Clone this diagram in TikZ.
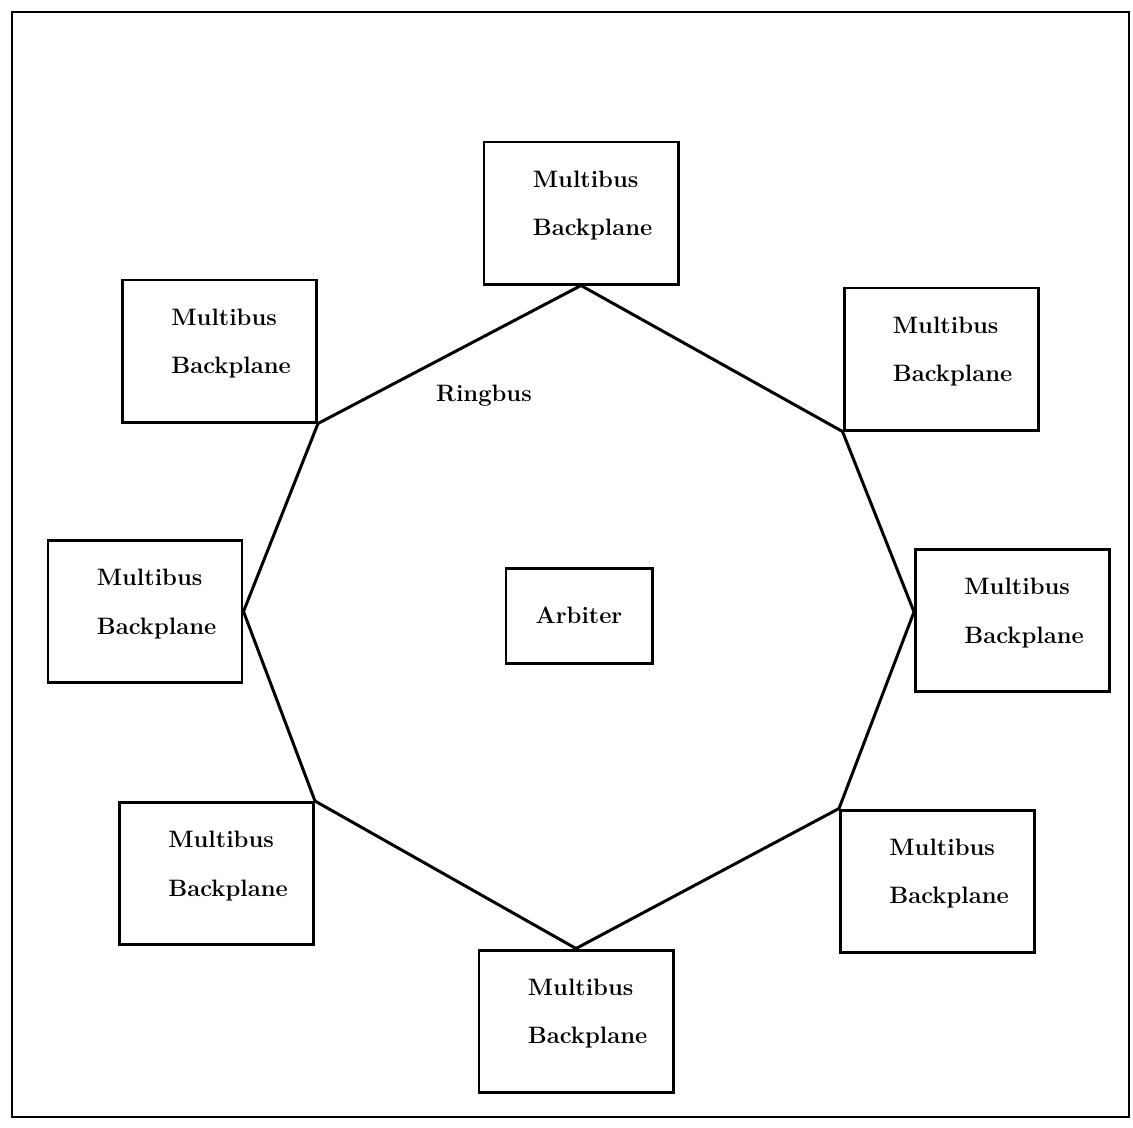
\documentclass[tikz,border=0pt]{standalone}
\begin{document}
\begin{tikzpicture}[x=0.2mm,y=-0.2mm,
  font=\bfseries\fontsize{13.5}{27.5}\selectfont,
  mbtext/.style={anchor=north west,align=left,inner sep=0pt,xshift=1cm,yshift=-0.6cm},
  backplane/.style={draw,line width=1.7pt,minimum width=3.88cm,minimum height=2.84cm,
    label={[mbtext]north west:{Multibus\\Backplane}}},
  ring/.style={line width=1.7pt}]
\useasboundingbox (0,0) rectangle (1133,1127);
\draw[line width=1.3pt] (12,12) rectangle (1129,1117);
\node[backplane] (N) at (581,213) {};
\node[backplane] (NE) at (941,359) {};
\node[backplane] (E) at (1012.5,620.5) {};
\node[backplane] (SE) at (937.5,881) {};
\node[backplane] (S) at (576,1021) {};
\node[backplane] (SW) at (216.5,873.5) {};
\node[backplane] (W) at (145,611.5) {};
\node[backplane] (NW) at (219.5,351) {};
\node[draw,line width=1.7pt,minimum width=2.92cm,minimum height=1.9cm] (A) at (579,615.5) {Arbiter};
\node (ringbus) at (484,396) {Ringbus};
\draw[ring] (N.south)--(NE.south west)--(E.175)--(SE.north west)--(S.north)
  --(SW.north east)--(W.east)--(NW.south east)--cycle;
\end{tikzpicture}
\end{document}
